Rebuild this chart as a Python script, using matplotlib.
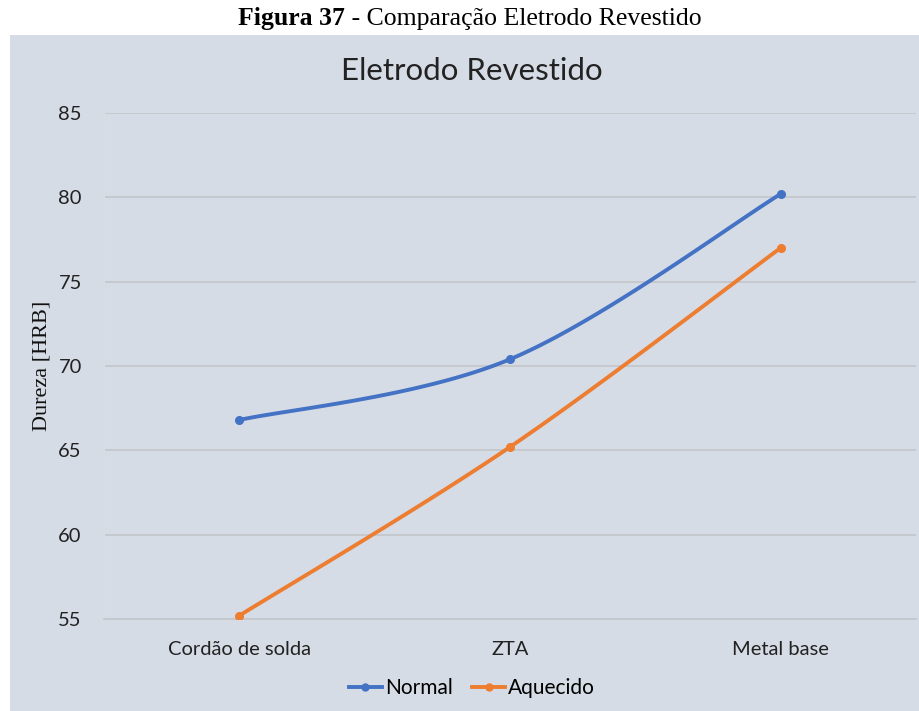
import numpy as np
import matplotlib
matplotlib.use("Agg")
import matplotlib.pyplot as plt
from matplotlib.patches import Rectangle

categories = ["Cordão de solda", "ZTA", "Metal base"]
normal = [66.8, 70.4, 80.2]
aquecido = [55.2, 65.2, 77.0]
y_ticks = [55, 60, 65, 70, 75, 80, 85]

BG = "#D6DCE5"
BLUE = "#4472C4"
ORANGE = "#ED7D31"
GRID = "#C4C7CC"
SANS = "Lato"
SERIF = "Liberation Serif"


def smooth(xs, ys, n=60):
    """Catmull-Rom style cubic Bezier through the points (spreadsheet 'smoothed line')."""
    pts = np.column_stack([xs, ys]).astype(float)
    ext = np.vstack([pts[0], pts, pts[-1]])
    out = []
    t = np.linspace(0, 1, n)[:, None]
    for i in range(1, len(ext) - 2):
        p0, p1, p2, p3 = ext[i - 1], ext[i], ext[i + 1], ext[i + 2]
        c1 = p1 + (p2 - p0) / 6.0
        c2 = p2 - (p3 - p1) / 6.0
        seg = ((1 - t) ** 3) * p1 + 3 * ((1 - t) ** 2) * t * c1 + 3 * (1 - t) * t ** 2 * c2 + t ** 3 * p2
        out.append(seg if i == 1 else seg[1:])
    arr = np.vstack(out)
    return arr[:, 0], arr[:, 1]


fig = plt.figure(figsize=(9.2, 7.11), dpi=100)
W, H = 920, 711

# chart area background
fig.patches.append(Rectangle((10 / W, 0), 1 - 10 / W, 1 - 35 / H,
                             transform=fig.transFigure, facecolor=BG,
                             edgecolor="none", zorder=-5))

# caption above the chart
cap_y = 1 - 19 / H
t1 = fig.text(0, cap_y, "Figura 37", fontsize=18.5, fontweight="bold",
              family=SERIF, va="center", ha="left")
t2 = fig.text(0, cap_y, " - Comparação Eletrodo Revestido", fontsize=18.5,
              family=SERIF, va="center", ha="left")
fig.canvas.draw()
r = fig.canvas.get_renderer()
w1 = t1.get_window_extent(r).width
w2 = t2.get_window_extent(r).width
x0 = 470 - (w1 + w2) / 2
t1.set_x(x0 / W)
t2.set_x((x0 + w1) / W)

left, right = 104 / W, 916 / W
bottom, top = 1 - 619 / H, 1 - 113 / H
ax = fig.add_axes([left, bottom, right - left, top - bottom])
ax.set_facecolor("none")

x = np.arange(len(categories))
for vals, col, lab in [(normal, BLUE, "Normal"), (aquecido, ORANGE, "Aquecido")]:
    sx, sy = smooth(x, vals)
    ax.plot(sx, sy, color=col, lw=2.8, solid_capstyle="round", zorder=3)
    ax.plot(x, vals, "o", color=col, ms=5.5, zorder=4)
    ax.plot([], [], color=col, lw=2.8, marker="o", ms=5, label=lab)

ax.set_xlim(-0.5, 2.5)
ax.set_ylim(55, 85)
ax.set_yticks(y_ticks)
ax.set_xticks(x)
ax.set_xticklabels(categories, fontsize=14.5, family=SANS, color="#222222")
ax.set_yticklabels([str(v) for v in y_ticks], fontsize=14.5, family=SANS, color="#222222")
ax.tick_params(length=0, pad=16, axis="y")
ax.tick_params(length=0, pad=16, axis="x")
ax.grid(axis="y", color=GRID, lw=1.3)
ax.set_axisbelow(True)
for s in ["top", "right"]:
    ax.spines[s].set_visible(False)
ax.spines["bottom"].set_color(GRID)
ax.spines["bottom"].set_linewidth(1.3)
ax.spines["left"].set_color("#DADCE0")
ax.spines["left"].set_linewidth(1.0)

fig.text(472 / W, 1 - 71 / H, "Eletrodo Revestido", ha="center", va="center",
         fontsize=22.5, family=SANS, color="#222222")

fig.text(42 / W, 1 - 366 / H, "Dureza [HRB]", rotation=90, ha="center",
         va="center", fontsize=16, family=SERIF, color="#111111")

leg = fig.legend(loc="center", bbox_to_anchor=(472 / W, 1 - 688 / H), ncol=2,
                 frameon=False, prop={"family": SANS, "size": 15},
                 handlelength=1.6, handletextpad=0.15, columnspacing=0.9)

fig.savefig("out.png", dpi=100)
